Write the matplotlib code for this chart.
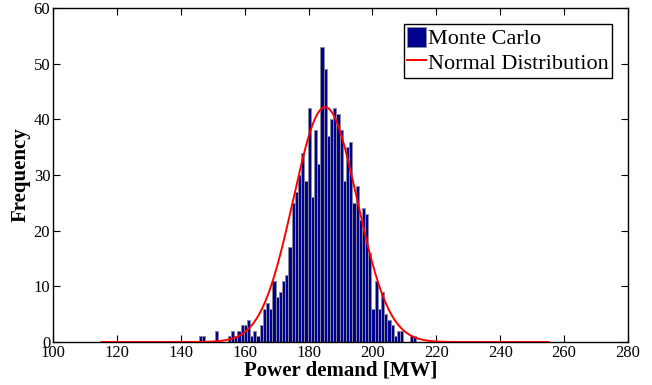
import numpy as np
import matplotlib
matplotlib.use("Agg")
import matplotlib.pyplot as plt

# Histogram data (Monte Carlo), 1 MW bins
bin_left = 145.7
bin_width = 1.0
counts = [1, 1, 0, 0, 0, 2, 0, 0, 0, 1, 2, 1, 2, 3,
          3, 4, 1, 2, 1, 3, 6, 7, 6, 11, 8, 9, 11, 12,
          17, 25, 27, 30, 34, 29, 42, 26, 38, 32, 53, 49, 37, 40, 42, 41,
          38, 29, 35, 36, 25, 28, 22, 24, 23, 16, 6, 11, 6, 9, 5, 4, 3, 1,
          2, 2, 0, 0, 1, 1]

# Fitted normal distribution
curve_mean = 185.2
curve_std = 10.0
curve_peak = 42.2
curve_span_sigmas = 7

xticks = [100, 120, 140, 160, 180, 200, 220, 240, 260, 280]
yticks = [0, 10, 20, 30, 40, 50, 60]

plt.rcParams['font.family'] = ['Liberation Serif', 'DejaVu Serif']

fig = plt.figure(figsize=(6.52, 3.85), dpi=100)
ax = fig.add_axes([53/652, 1 - 342/385, (628-53)/652, (342-8)/385])

lefts = bin_left + bin_width * np.arange(len(counts))
bars = ax.bar(lefts, counts, width=bin_width, align='edge', color='#00008F',
              edgecolor='#8a8a9a', linewidth=0.7, label='Monte Carlo', zorder=2)

xc = np.linspace(curve_mean - curve_span_sigmas * curve_std,
                 curve_mean + curve_span_sigmas * curve_std, 400)
yc = curve_peak * np.exp(-0.5 * ((xc - curve_mean) / curve_std) ** 2)
line, = ax.plot(xc, yc, color='#FF0000', linewidth=1.4, label='Normal Distribution', zorder=3)

ax.set_xlim(100, 280)
ax.set_ylim(0, 60)
ax.set_xticks(xticks)
ax.set_yticks(yticks)
ax.tick_params(direction='in', top=True, right=True, length=5, width=0.8,
               labelsize=12, pad=2)
for s in ax.spines.values():
    s.set_linewidth(1.0)

ax.set_xlabel('Power demand [MW]', fontsize=15, fontweight='bold', labelpad=0)
ax.set_ylabel('Frequency', fontsize=15, fontweight='bold', labelpad=2)

leg = ax.legend([bars, line], ['Monte Carlo', 'Normal Distribution'],
                loc='upper right', fontsize=16, frameon=True, fancybox=False,
                edgecolor='black', framealpha=1, borderpad=0.15, labelspacing=0.1,
                handlelength=0.85, handleheight=1.0, handletextpad=0.1,
                borderaxespad=0.7)
leg.get_frame().set_linewidth(1.0)

fig.savefig('out.png', dpi=100)
